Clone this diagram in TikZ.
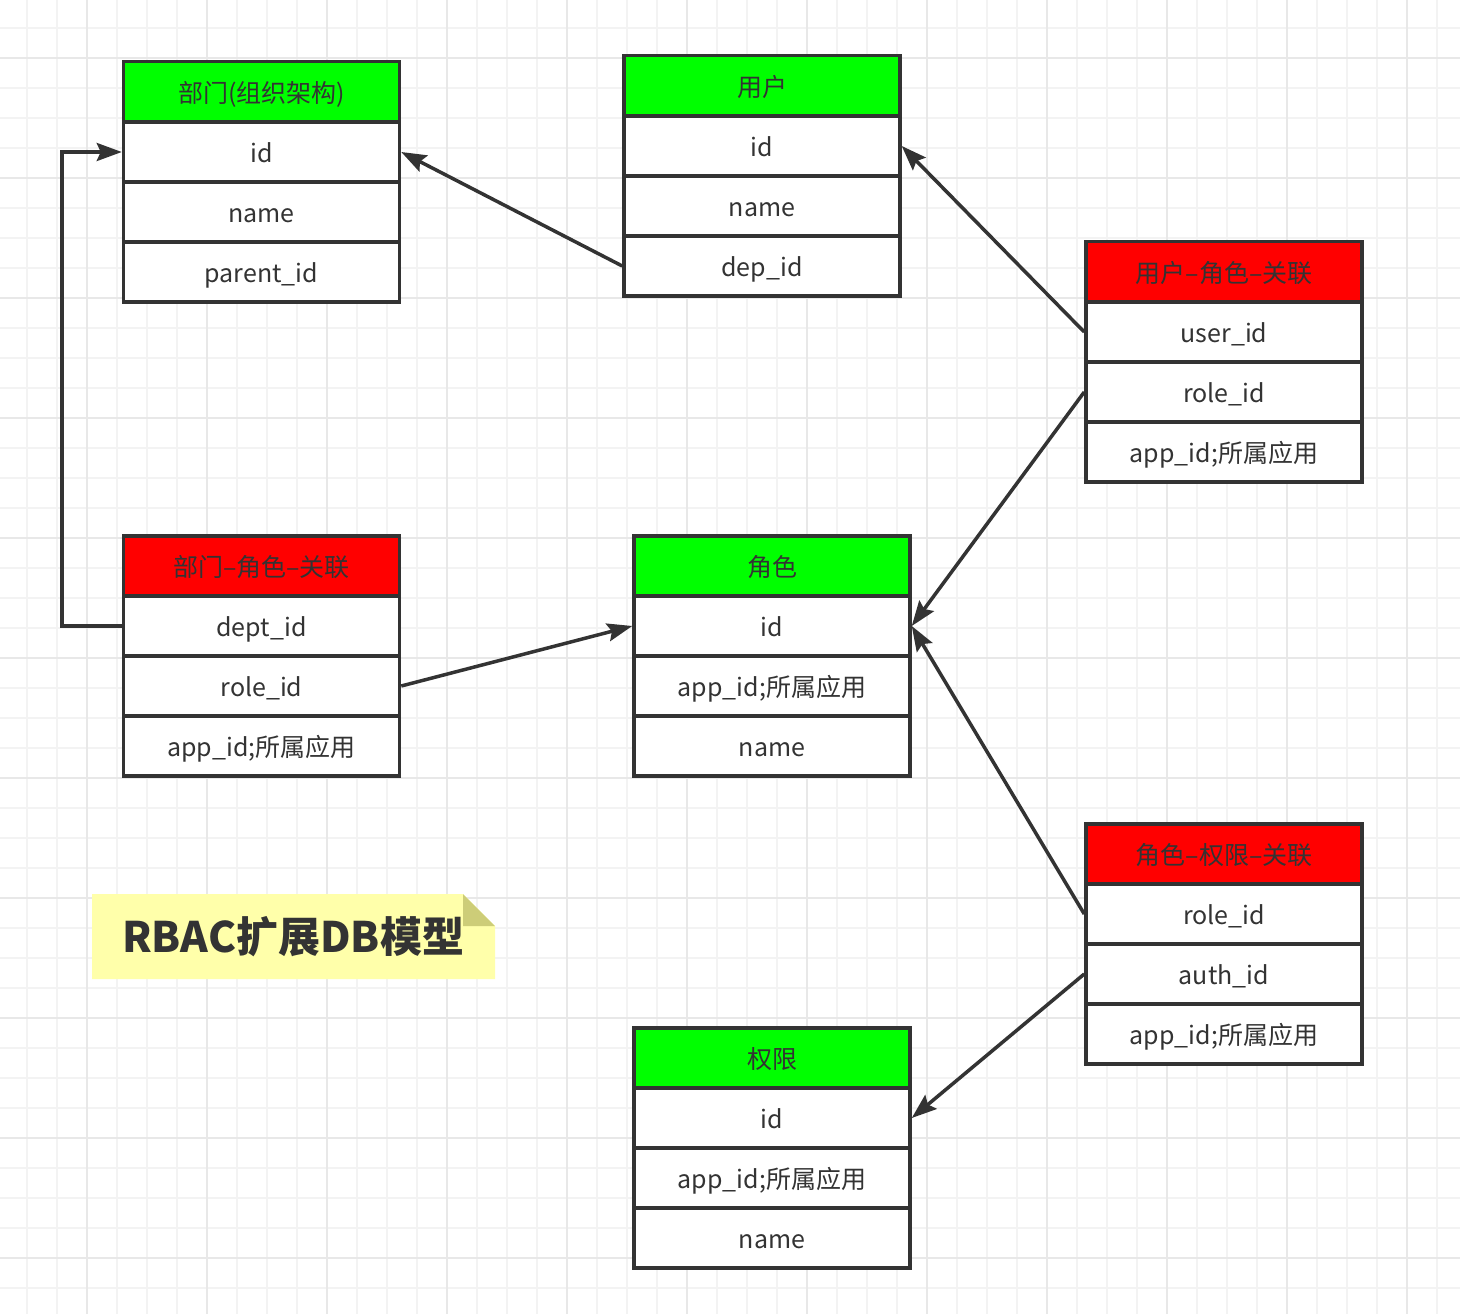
\documentclass[tikz,border=0pt]{standalone}
\usepackage{fontspec}
\setmainfont{Noto Sans CJK SC}
\usetikzlibrary{arrows.meta}
\definecolor{ink}{HTML}{333333}
\definecolor{hgreen}{HTML}{00FF00}
\definecolor{hred}{HTML}{FF0000}
\definecolor{gridminor}{HTML}{F3F3F3}
\definecolor{gridmajor}{HTML}{E8E8E8}
\definecolor{notefill}{HTML}{FFFFAA}
\definecolor{notefold}{HTML}{CDCD78}
\begin{document}
\begin{tikzpicture}[x=1pt,y=-1pt,
  cell/.style={draw=ink, line width=3.5pt, fill=white, minimum width=276pt, minimum height=60pt,
    inner sep=0pt, text height=22pt, text depth=0.5pt, text=ink, font=\fontsize{25}{29}\selectfont},
  ghead/.style={cell, fill=hgreen},
  rhead/.style={cell, fill=hred},
  conn/.style={draw=ink, line width=3.5pt, -{Stealth[length=25pt,width=18pt,inset=4pt]}}
]
\useasboundingbox (0,0) rectangle (1460,1314);
\fill[white] (0,0) rectangle (1460,1314);
% grid
\foreach \x in {27,57,...,1460} \draw[gridminor, line width=1.5pt] (\x,0) -- (\x,1314);
\foreach \y in {28,58,...,1314} \draw[gridminor, line width=1.5pt] (0,\y) -- (1460,\y);
\foreach \x in {87,207,...,1460} \draw[gridmajor, line width=1.5pt] (\x,0) -- (\x,1314);
\foreach \y in {58,178,...,1314} \draw[gridmajor, line width=1.5pt] (0,\y) -- (1460,\y);

% 部门
\node[ghead] (dept-h) at (261.5,91.5) {部门(组织架构)};
\node[cell] (dept-id) at (261.5,152) {id};
\node[cell] (dept-name) at (261.5,212) {name};
\node[cell] (dept-pid) at (261.5,272) {parent\_id};

% 用户
\node[ghead] (user-h) at (762,85.5) {用户};
\node[cell] (user-id) at (762,146) {id};
\node[cell] (user-name) at (762,206) {name};
\node[cell] (user-dep) at (762,266) {dep\_id};

% 用户-角色-关联
\node[rhead] (ur-h) at (1224,271.5) {用户–角色–关联};
\node[cell] (ur-uid) at (1224,332) {user\_id};
\node[cell] (ur-rid) at (1224,392) {role\_id};
\node[cell] (ur-app) at (1224,452) {app\_id;所属应用};

% 部门-角色-关联
\node[rhead] (dr-h) at (261.5,566) {部门–角色–关联};
\node[cell] (dr-did) at (261.5,626) {dept\_id};
\node[cell] (dr-rid) at (261.5,686) {role\_id};
\node[cell] (dr-app) at (261.5,746) {app\_id;所属应用};

% 角色
\node[ghead] (role-h) at (772,566) {角色};
\node[cell] (role-id) at (772,626) {id};
\node[cell] (role-app) at (772,686) {app\_id;所属应用};
\node[cell] (role-name) at (772,746) {name};

% 角色-权限-关联
\node[rhead] (rp-h) at (1224,854) {角色–权限–关联};
\node[cell] (rp-rid) at (1224,914) {role\_id};
\node[cell] (rp-aid) at (1224,974) {auth\_id};
\node[cell] (rp-app) at (1224,1034) {app\_id;所属应用};

% 权限
\node[ghead] (perm-h) at (772,1058) {权限};
\node[cell] (perm-id) at (772,1118) {id};
\node[cell] (perm-app) at (772,1178) {app\_id;所属应用};
\node[cell] (perm-name) at (772,1238) {name};

% connectors
\draw[conn] (user-dep.west) -- (dept-id.east);
\draw[conn] (ur-uid.west) -- (user-id.east);
\draw[conn] (ur-rid.west) -- (role-id.east);
\coordinate (bend) at ([xshift=-60pt]dr-did.west);
\draw[conn] (dr-did.west) -- (bend) |- (dept-id.west);
\draw[conn] (dr-rid.east) -- (role-id.west);
\draw[conn] (rp-rid.west) -- (role-id.east);
\draw[conn] (rp-aid.west) -- (perm-id.east);

% note
\fill[notefill] (92,894) -- (463,894) -- (495,926) -- (495,979) -- (92,979) -- cycle;
\fill[notefold] (463,894) -- (463,926) -- (495,926) -- cycle;
\node[font=\bfseries\fontsize{42}{46}\selectfont, text=ink, inner sep=0pt] (title) at (293,937) {RBAC扩展DB模型};
\end{tikzpicture}
\end{document}
